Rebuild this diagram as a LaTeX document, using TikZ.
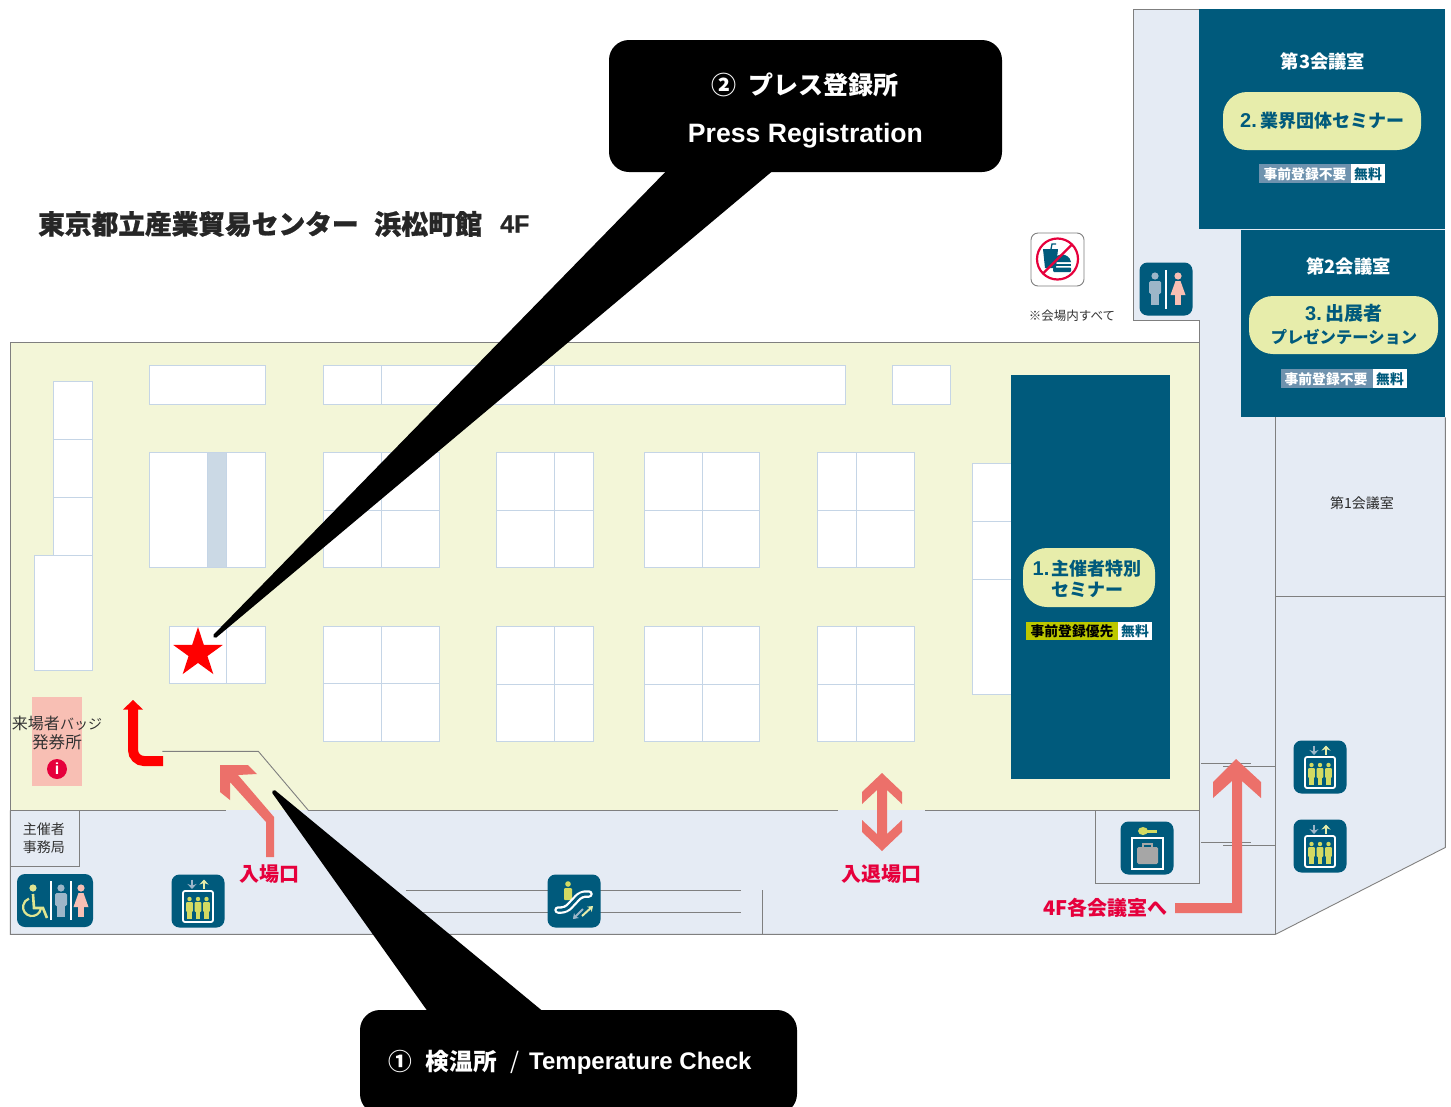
\documentclass[tikz,border=0pt]{standalone}
\usepackage{fontspec}
\setmainfont{Liberation Sans}
\newfontfamily\cjk{Noto Sans CJK JP}
\usetikzlibrary{shapes.geometric,arrows.meta}
\definecolor{tealb}{HTML}{005A7C}
\definecolor{hall}{HTML}{F3F6D8}
\definecolor{corr}{HTML}{E5EBF4}
\definecolor{wall}{HTML}{7F7F7F}
\definecolor{booth}{HTML}{C5D5E6}
\definecolor{strip}{HTML}{CBD9E5}
\definecolor{arrowc}{HTML}{EC706A}
\definecolor{pale}{HTML}{E7EDAB}
\definecolor{ltxt}{HTML}{E6003C}
\definecolor{lime}{HTML}{D3DA62}
\definecolor{pers}{HTML}{9DB6C8}
\definecolor{pinkf}{HTML}{F8BFB4}
\definecolor{gtag}{HTML}{6E92AE}
\definecolor{ygtag}{HTML}{BDC800}
\newcommand{\bx}[4]{\filldraw[boothbox] (#1,#2) rectangle (#3,#4);}
\newcommand{\bxq}[6]{\filldraw[boothbox] (#1,#2) rectangle (#3,#4);\draw[boothline] (#5,#2) -- (#5,#4);\draw[boothline] (#1,#6) -- (#3,#6);}
\newcommand{\icn}[2]{\fill[tealb,rounded corners=8pt] (#1-26.5,#2-26.5) rectangle (#1+26.5,#2+26.5);}
\newcommand{\man}[3]{\fill[#3] (#1,#2-12) circle (3.6);\fill[#3,rounded corners=1.5pt] (#1-6,#2-7) rectangle (#1+6,#2+6);\fill[#3] (#1-3.8,#2+4) rectangle (#1+3.8,#2+17);}
\newcommand{\woman}[3]{\fill[#3] (#1,#2-12) circle (3.6);\fill[#3] (#1-2.5,#2-7) -- (#1+2.5,#2-7) -- (#1+7.5,#2+7) -- (#1-7.5,#2+7) -- cycle;\fill[#3] (#1-3,#2+6) rectangle (#1+3,#2+17);}
\newcommand{\rider}[2]{\fill[lime] (#1,#2-9) circle (2.2);\fill[lime,rounded corners=1pt] (#1-3.4,#2-6) rectangle (#1+3.4,#2+4);\fill[lime] (#1-2.4,#2+3) rectangle (#1+2.4,#2+11);}
\newcommand{\lift}[2]{\icn{#1}{#2}
 \draw[white,line width=1.8pt,rounded corners=2pt] (#1-15,#2-10) rectangle (#1+15,#2+21);
 \rider{#1-8.5}{#2+7}\rider{#1}{#2+7}\rider{#1+8.5}{#2+7}
 \draw[pers,line width=2.2pt,-{Stealth[length=5pt,width=9pt]}] (#1-6,#2-21.5) -- (#1-6,#2-12);
 \draw[pale,line width=2.2pt,-{Stealth[length=5pt,width=9pt]}] (#1+6,#2-12) -- (#1+6,#2-21.5);}
\newcommand{\latn}[1]{{\normalfont\bfseries\fontsize{20}{20}\selectfont #1}}
\tikzset{
 boothbox/.style={draw=booth,fill=white,line width=0.8pt},
 boothline/.style={draw=booth,line width=0.8pt},
 wallline/.style={draw=wall,line width=0.9pt},
 pill/.style={fill=pale,rounded corners=24pt},
 roomttl/.style={text=white,font=\cjk\bfseries\fontsize{18.3}{18}\selectfont,inner sep=0},
 pilltxt/.style={text=tealb,align=center,font=\cjk\bfseries\fontsize{18}{21}\selectfont,inner sep=0},
 tagtxt/.style={font=\cjk\bfseries\fontsize{13.8}{14}\selectfont,inner sep=0},
 redlbl/.style={text=ltxt,font=\cjk\bfseries\fontsize{20}{20}\selectfont,inner sep=0},
 small/.style={text=black!80,align=center,inner sep=0,font=\cjk\fontsize{14}{18}\selectfont},
 titletxt/.style={inner sep=0,anchor=west,text=black!85},
 callout/.style={fill=black,draw=black,line width=4pt,line join=round},
}
\begin{document}
\begin{tikzpicture}[x=1pt,y=-1pt]
\useasboundingbox (0,0) rectangle (1451,1106);
\fill[white] (0,0) rectangle (1451,1106);
% building
\fill[corr] (1133,9) -- (1445,9) -- (1445,847) -- (1275,934) -- (10,934) -- (10,810) -- (1199,810) -- (1199,320) -- (1133,320) -- cycle;
\fill[hall] (10,342) rectangle (1199,810);
\begin{scope}[shift={(0.4,0.4)}]
\draw[wallline] (1199,9) -- (1133,9) -- (1133,320) -- (1199,320) -- (1199,810);
\draw[wallline] (10,810) -- (10,342) -- (1199,342);
\draw[wallline] (10,810) -- (226,810);
\draw[wallline] (308,810) -- (838,810);
\draw[wallline] (925,810) -- (1199,810);
\draw[wallline] (162,751) -- (258,751) -- (308,810);
\draw[wallline] (10,810) -- (10,934) -- (1275,934) -- (1445,847) -- (1445,417);
\draw[wallline] (1275,417) -- (1275,934);
\draw[wallline] (1275,596) -- (1445,596);
\draw[wallline] (79,810) -- (79,866) -- (10,866);
\draw[wallline] (1095,810) -- (1095,883) -- (1199,883) -- (1199,810);
\draw[wallline] (406,890) -- (741,890);
\draw[wallline] (406,912) -- (741,912);
\draw[wallline] (762,890) -- (762,934);
\draw[wallline] (1201,763) -- (1251,763);
\draw[wallline] (1223,766) -- (1275,766);
\draw[wallline] (1201,842) -- (1251,842);
\draw[wallline] (1223,845) -- (1275,845);
% booths
\bx{149}{365}{265}{404}
\bx{323}{365}{845}{404}
\draw[boothline] (381,365) -- (381,404);
\draw[boothline] (554,365) -- (554,404);
\bx{892}{365}{950}{404}
\bx{53}{381}{92}{555}
\draw[boothline] (53,439) -- (92,439);
\draw[boothline] (53,497) -- (92,497);
\bx{34}{555}{92}{670}
\bx{149}{452}{265}{567}
\filldraw[fill=strip,draw=booth,line width=0.8pt] (207,452) rectangle (226,567);
\bxq{323}{452}{439}{567}{381}{510}
\bxq{496}{452}{593}{567}{554}{510}
\bxq{644}{452}{759}{567}{702}{510}
\bxq{817}{452}{914}{567}{856}{510}
\bx{169}{626}{265}{683}
\draw[boothline] (226,626) -- (226,683);
\bxq{323}{626}{439}{741}{381}{683}
\bxq{496}{626}{593}{741}{554}{684}
\bxq{644}{626}{759}{741}{702}{684}
\bxq{817}{626}{914}{741}{856}{684}
\bx{972}{463}{1011}{694}
\draw[boothline] (972,521) -- (1011,521);
\draw[boothline] (972,579) -- (1011,579);
\end{scope}
% teal rooms
\fill[tealb] (1011,375) rectangle (1170,779);
\fill[tealb] (1199,9) rectangle (1445,229);
\fill[tealb] (1241,230) rectangle (1445,417);
% seminar 3
\node[roomttl] (r3) at (1323,61) {第3会議室};
\fill[pill] (1223,92) rectangle (1421,150);
\node[pilltxt] (p3) at (1322.5,120.5) {\latn{2.}\hspace{4pt}業界団体セミナー};
\fill[gtag] (1259,164) rectangle (1351,183);
\fill[white] (1351,164) rectangle (1385,183);
\node[tagtxt,text=white] (t3a) at (1305,174) {事前登録不要};
\node[tagtxt,text=tealb] (t3b) at (1368,174) {無料};
% seminar 2
\node[roomttl] (r2) at (1348.5,266) {第2会議室};
\fill[pill] (1249,296) rectangle (1438,354);
\node[pilltxt,font=\cjk\bfseries\fontsize{19}{23}\selectfont] (p2) at (1344,325) {\latn{3.}\hspace{4pt}出展者\\{\fontsize{16.3}{23}\selectfont プレゼンテーション}};
\fill[gtag] (1281,369) rectangle (1373,388);
\fill[white] (1373,369) rectangle (1407,388);
\node[tagtxt,text=white] (t2a) at (1326,379) {事前登録不要};
\node[tagtxt,text=tealb] (t2b) at (1390,379) {無料};
% seminar 1
\fill[pill] (1023,548) rectangle (1155,607);
\node[pilltxt] (p1) at (1087,579) {\latn{1.}\hspace{2pt}主催者特別\\セミナー};
\fill[ygtag] (1026,622) rectangle (1118,640);
\fill[white] (1118,622) rectangle (1152,640);
\node[tagtxt,text=black] (t1a) at (1072,631) {事前登録優先};
\node[tagtxt,text=tealb] (t1b) at (1135,631) {無料};
\node[small,text=black!85] (r1) at (1362,503) {第1会議室};
% title
\node[titletxt,font=\cjk\bfseries\addfontfeature{FakeBold=1}\fontsize{26.7}{27}\selectfont] (title) at (38,224) {東京都立産業貿易センター};
\node[titletxt,font=\cjk\bfseries\addfontfeature{FakeBold=1}\fontsize{27}{27}\selectfont] (title2) at (374,224) {浜松町館};
\node[titletxt,font=\bfseries\addfontfeature{FakeBold=1}\fontsize{25}{27}\selectfont] (title3) at (500,224) {4F};
% badge
\fill[pinkf] (32,697) rectangle (82,786);
\node[small,font=\cjk\fontsize{16}{19}\selectfont] (badge) at (57,732.5) {来場者{\fontsize{14}{19}\selectfont バッジ}\\\fontsize{16.6}{19}\selectfont 発券所};
\fill[ltxt] (57,769) circle (10);
\node[inner sep=0,text=white,font=\bfseries\fontsize{16}{16}\selectfont] (info) at (57,769) {i};
\node[small] (org) at (44,838) {主催者\\事務局};
% no-food sign
\filldraw[draw=wall,fill=white,line width=0.9pt,rounded corners=7pt] (1031,233) rectangle (1084,286);
\fill[tealb] (1043,249) -- (1058,249) -- (1056,268) -- (1045,268) -- cycle;
\draw[tealb,line width=1.3pt] (1051,249) -- (1052,244) -- (1056,244);
\fill[tealb] (1053,262) .. controls (1055,252) and (1069,252) .. (1071,262) -- cycle;
\fill[tealb] (1053,263.5) rectangle (1071,266);
\fill[tealb,rounded corners=1pt] (1053,267.5) rectangle (1071,272);
\draw[ltxt,line width=2.2pt] (1057.5,259) circle (20.5);
\draw[ltxt,line width=2.2pt] (1072,244.5) -- (1043,273.5);
\node[small,font=\cjk\fontsize{12.5}{13}\selectfont] (all) at (1072,316) {※会場内すべて};
% icons
\icn{1166}{289}
\man{1155}{288}{pers}
\draw[white,line width=1.4pt] (1166,270) -- (1166,309);
\woman{1178}{288}{pinkf}
% accessibility
\fill[tealb,rounded corners=8pt] (17,874) rectangle (93,927);
\fill[lime!70!white] (33,888) circle (3.6);
\draw[lime!70!white,line width=2.6pt] (33,894) -- (34,908) -- (43,908) -- (47,918);
\draw[lime!70!white,line width=2.2pt] (40.9,908.6) arc[start angle=10,end angle=250,radius=9];
\draw[white,line width=1.3pt] (51,881) -- (51,920);
\draw[white,line width=1.3pt] (71,881) -- (71,920);
\man{61}{900}{pers}
\woman{81}{900}{pinkf}
\lift{198}{901}
\lift{1320}{767}
\lift{1320}{846}
% escalator
\icn{574}{901}
\fill[lime] (568,884) circle (2.8);
\fill[lime,rounded corners=1pt] (564,888) rectangle (572,900);
\draw[white,line width=7.5pt,line cap=round,rounded corners=5pt] (558,910) -- (566,910) -- (581,894) -- (589,894);
\draw[tealb,line width=3pt,line cap=round,rounded corners=4pt] (558,910) -- (566,910) -- (581,894) -- (589,894);
\draw[pale,line width=2pt,-{Stealth[length=5pt,width=7pt]}] (582,916) -- (593,906);
\draw[pers,line width=2pt,-{Stealth[length=5pt,width=7pt]}] (583,909) -- (573,919);
% storage icon
\icn{1147}{848}
\fill[lime] (1143,831) ellipse (5 and 4);
\fill[lime] (1145,829.5) rectangle (1157,832.5);
\draw[white,line width=2.2pt] (1132,838) rectangle (1163,869);
\fill[black!35,rounded corners=1.5pt] (1137,847) rectangle (1158,864);
\draw[black!35,line width=1.2pt] (1143,847) -- (1143,844) -- (1152,844) -- (1152,847);
% arrows
\fill[arrowc] (220,765) -- (248,765) -- (257,774) -- (238,775) -- (274,817) -- (274,857) -- (266,857) -- (266,822) -- (230,782) -- (230,800) -- (220,792) -- cycle;
\fill[arrowc] (882,773) -- (902,792) -- (902,804) -- (887,790) -- (887,834) -- (902,820) -- (902,832) -- (882,851) -- (862,832) -- (862,820) -- (877,834) -- (877,790) -- (862,804) -- (862,792) -- cycle;
\fill[arrowc] (1236,759) -- (1261,782) -- (1261,798) -- (1242,781) -- (1242,913) -- (1175,913) -- (1175,903) -- (1232,903) -- (1232,781) -- (1213,798) -- (1213,782) -- cycle;
\draw[red,line width=10pt,rounded corners=11pt] (163,761) -- (133,761) -- (133,708);
\fill[red] (133,700) -- (143,709.5) -- (123,709.5) -- cycle;
\node[redlbl] (in) at (269.5,874) {入場口};
\node[redlbl] (io) at (881,874) {入退場口};
\node[redlbl,anchor=east] (fl) at (1168,908) {4F各会議室へ};
% star
\node[star,star points=5,star point ratio=2.618,fill=red,minimum size=52pt,inner sep=0] (star) at (198,653) {};
% callouts
\node[inner sep=0,minimum width=393pt,minimum height=132pt,fill=black,rounded corners=20pt] (c2) at (805.5,106) {};
\coordinate (c2a) at (672,168);
\coordinate (c2b) at (773,168);
\coordinate (c2t) at (215,636);
\filldraw[callout] (c2a) -- (c2t) -- (c2b) -- cycle;
\node[text=white,font=\cjk\bfseries\fontsize{25}{25}\selectfont,inner sep=0] (c2l1) at (805,85) {②\hspace{12pt}プレス登録所};
\node[text=white,font=\bfseries\fontsize{26.6}{25}\selectfont,inner sep=0] (c2l2) at (805.5,136) {Press Registration};
\node[inner sep=0,minimum width=437pt,minimum height=104pt,fill=black,rounded corners=20pt] (c1) at (578.5,1062) {};
\coordinate (c1a) at (432,1014);
\coordinate (c1b) at (543,1014);
\coordinate (c1t) at (274,792);
\filldraw[callout] (c1a) -- (c1t) -- (c1b) -- cycle;
\node[text=white,font=\cjk\bfseries\fontsize{23.7}{23}\selectfont,inner sep=0,anchor=west] (c1l1) at (388,1062) {①\hspace{14pt}検温所};
\node[text=white,font=\cjk\fontsize{23}{23}\selectfont,inner sep=0,anchor=west] (c1l2) at (510,1062) {/};
\node[text=white,font=\bfseries\fontsize{24}{23}\selectfont,inner sep=0,anchor=west] (c1l3) at (529,1063.5) {Temperature Check};
\end{tikzpicture}
\end{document}
